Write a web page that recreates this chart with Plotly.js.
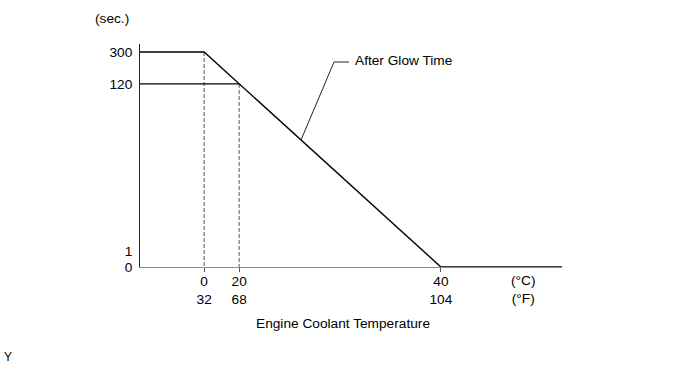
<!DOCTYPE html>
<html>
<head>
<meta charset="utf-8">
<script src="https://cdn.plot.ly/plotly-3.0.1.min.js"></script>
<style>html,body{margin:0;padding:0;background:#fff;}#chart{width:690px;height:369px;}</style>
</head>
<body>
<div id="chart"></div>
<script>
// ---- data ----
const tempC = [0, 20, 40];            // x tick labels (°C)
const tempF = [32, 68, 104];          // x tick labels (°F)
const timeTicks = [300, 120, 1, 0];   // y tick labels (sec.)
const curveTemp = [-20, 0, 40, 70];   // After Glow Time curve, °C (axis start .. axis end)
const curveTime = [300, 300, 0, 0];   // After Glow Time curve, sec.
const refLineTemp = [-20, 20];        // horizontal reference at 120 s
const refLineTime = [120, 120];
const dropTemp = [0, 20];             // dashed drop lines
const dropTime = [300, 120];

// ---- schematic (non-linear) axis scale of the drawing ----
const xScale = {vals: [-20, 0, 20, 40, 70], pos: [0, 0.152, 0.235, 0.713, 1]};
const yScale = {vals: [0, 1, 120, 300], pos: [0, 0.072, 0.821, 0.964]};
function mapScale(v, s) {
  for (let i = 0; i < s.vals.length - 1; i++) {
    const a = s.vals[i], b = s.vals[i + 1];
    if (v >= a && v <= b) return s.pos[i] + (v - a) / (b - a) * (s.pos[i + 1] - s.pos[i]);
  }
  return v < s.vals[0] ? s.pos[0] : s.pos[s.pos.length - 1];
}
const mx = a => a.map(v => mapScale(v, xScale));
const my = a => a.map(v => mapScale(v, yScale));

const traces = [];
// dashed drop lines
dropTemp.forEach((t, i) => {
  traces.push({x: mx([t, t]), y: my([dropTime[i], 0]), mode: 'lines',
    line: {color: '#555', width: 1, dash: '4px,2px'}, hoverinfo: 'skip'});
});
// 120 s reference line
traces.push({x: mx(refLineTemp), y: my(refLineTime), mode: 'lines',
  line: {color: '#000', width: 1.2}, hoverinfo: 'skip'});
// main curve
traces.push({x: mx(curveTemp), y: my(curveTime), mode: 'lines',
  line: {color: '#000', width: 1.4}, hoverinfo: 'skip'});

const W = 422, H = 223, L = 140, T = 44;
const px = x => (x - L) / W, py = y => (T + H - y) / H;
const FS = 13.7;

const layout = {
  width: 690, height: 369,
  margin: {l: L, r: 690 - L - W, t: T, b: 369 - T - H},
  paper_bgcolor: '#fff', plot_bgcolor: '#fff',
  showlegend: false,
  font: {family: 'Liberation Sans, Arial, sans-serif', size: FS, color: '#000'},
  xaxis: {
    range: [0, 1], fixedrange: true, showgrid: false, zeroline: false,
    showline: true, linecolor: '#8c8c8c', linewidth: 1,
    tickmode: 'array', tickvals: mx(tempC),
    ticktext: tempC.map((c, i) => c + '<br>' + tempF[i]),
    ticks: 'outside', ticklen: 4, tickcolor: '#555', tickwidth: 1,
    ticklabelstandoff: -2, tickfont: {size: FS}
  },
  yaxis: {
    range: [0, 1], fixedrange: true, showgrid: false, zeroline: false,
    showline: true, linecolor: '#222', linewidth: 1,
    tickmode: 'array', tickvals: my(timeTicks), ticktext: timeTicks.map(String),
    ticks: '', ticklabelstandoff: 4, tickfont: {size: FS}
  },
  shapes: [
    {type: 'path', xref: 'paper', yref: 'paper',
     path: `M ${px(301)} ${py(140)} L ${px(334)} ${py(62)} L ${px(349)} ${py(62)}`,
     line: {color: '#222', width: 1}}
  ],
  annotations: [
    {text: '(sec.)', xref: 'paper', yref: 'paper', x: px(112), y: py(18), xanchor: 'center', yanchor: 'middle', showarrow: false},
    {text: 'After Glow Time', xref: 'paper', yref: 'paper', x: px(353), y: py(60), xanchor: 'left', yanchor: 'middle', showarrow: false},
    {text: '(°C)<br>(°F)', xref: 'paper', yref: 'paper', x: px(523), y: py(289), xanchor: 'center', yanchor: 'middle', showarrow: false},
    {text: 'Engine Coolant Temperature', xref: 'paper', yref: 'paper', x: px(343), y: py(323), xanchor: 'center', yanchor: 'middle', showarrow: false},
    {text: 'Y', xref: 'paper', yref: 'paper', x: px(8), y: py(357), xanchor: 'center', yanchor: 'middle', showarrow: false, font: {size: 12}}
  ]
};

Plotly.newPlot('chart', traces, layout, {displayModeBar: false, staticPlot: true});
</script>
</body>
</html>
